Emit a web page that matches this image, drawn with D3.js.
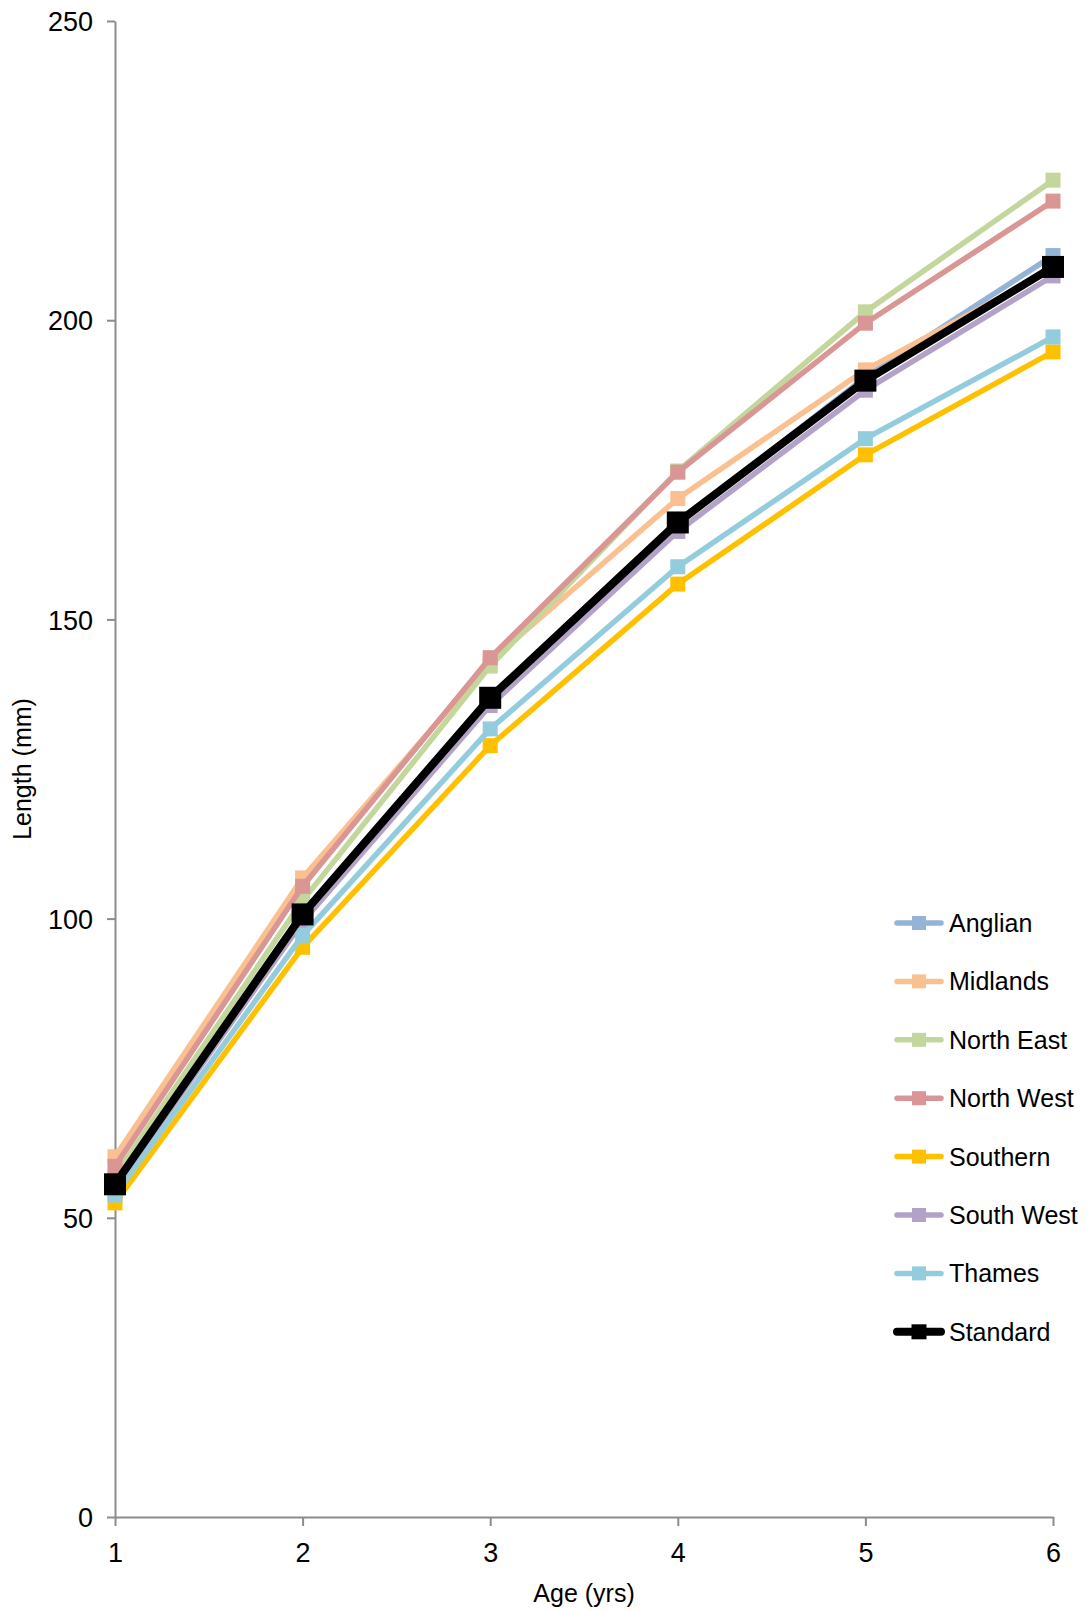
<!DOCTYPE html>
<html>
<head>
  <title>Length at age</title>
  <script src="https://d3js.org/d3.v7.min.js"></script>
  <style>
    body { margin: 0; background: #fff; }
    text { font-family: "Liberation Sans", Arial, sans-serif; fill: #000; }
  </style>
</head>
<body>
  <svg id="chart"></svg>
  <script>
    // ages on the x axis
    const ages = [1, 2, 3, 4, 5, 6];

    // regions, in drawing order (Standard last, on top)
    const regions = ["Anglian", "Midlands", "North East", "North West", "Southern", "South West", "Thames", "Standard"];
    const colours = ["#95B3D7", "#FAC090", "#C3D69B", "#D99694", "#FFC000", "#B3A2C7", "#93CDDD", "#000000"];

    // length (mm) at each age
    const anglian   = [56,   101,   137,   166,   190.5, 210.8];
    const midlands  = [60.2, 106.8, 143,   170.2, 191.7, 208.5];
    const northEast = [57,   103,   142.2, 174.8, 201.4, 223.4];
    const northWest = [58.6, 105.4, 143.6, 174.6, 199.5, 219.9];
    const southern  = [52.5, 95.2,  128.9, 155.9, 177.5, 194.7];
    const southWest = [55,   99.5,  135.6, 164.7, 188.3, 207.4];
    const thames    = [53.8, 97.2,  131.7, 158.8, 180.2, 197.2];
    const standard  = [55.6, 100.7, 136.9, 166.2, 189.9, 208.9];

    const yTicks = [0, 50, 100, 150, 200, 250];

    const values = [anglian, midlands, northEast, northWest, southern, southWest, thames, standard];

    const W = 1089, H = 1611;
    const margin = { top: 21, right: 36, bottom: 94, left: 115 };
    const width = W - margin.left - margin.right;
    const height = H - margin.top - margin.bottom;

    const svg = d3.select("#chart")
      .attr("width", W)
      .attr("height", H);

    const g = svg.append("g")
      .attr("transform", `translate(${margin.left},${margin.top})`);

    const x = d3.scaleLinear().domain([1, 6]).range([0, width]);
    const y = d3.scaleLinear().domain([0, 250]).range([height, 0]);

    // y axis
    const yAxis = g.append("g")
      .call(d3.axisLeft(y).tickValues(yTicks).tickSize(8).tickPadding(14).tickSizeOuter(0));
    yAxis.selectAll("text").attr("font-size", 27).attr("dy", "0.36em");

    // x axis
    const xAxis = g.append("g")
      .attr("transform", `translate(0,${height})`)
      .call(d3.axisBottom(x).tickValues(ages).tickFormat(d3.format("d")).tickSize(9).tickPadding(17).tickSizeOuter(0));
    xAxis.selectAll("text").attr("font-size", 27);

    g.selectAll(".domain, .tick line").attr("stroke", "#8c8c8c").attr("stroke-width", 2);

    // axis titles
    svg.append("text")
      .attr("x", margin.left + width / 2)
      .attr("y", 1602)
      .attr("text-anchor", "middle")
      .attr("font-size", 25)
      .text("Age (yrs)");

    svg.append("text")
      .attr("transform", `translate(31,${margin.top + height / 2}) rotate(-90)`)
      .attr("text-anchor", "middle")
      .attr("font-size", 25)
      .text("Length (mm)");

    const line = d3.line()
      .x((d, i) => x(ages[i]))
      .y(d => y(d));

    regions.forEach((name, k) => {
      const isStd = name === "Standard";
      const lw = isStd ? 8 : 5.5;
      const ms = isStd ? 22 : 15;
      const s = g.append("g");
      s.append("path")
        .datum(values[k])
        .attr("fill", "none")
        .attr("stroke", colours[k])
        .attr("stroke-width", lw)
        .attr("stroke-linejoin", "round")
        .attr("d", line);
      s.selectAll("rect")
        .data(values[k])
        .enter()
        .append("rect")
        .attr("x", (d, i) => x(ages[i]) - ms / 2)
        .attr("y", d => y(d) - ms / 2)
        .attr("width", ms)
        .attr("height", ms)
        .attr("fill", colours[k]);
    });

    // legend
    const legend = svg.append("g").attr("transform", "translate(897,923)");
    regions.forEach((name, k) => {
      const isStd = name === "Standard";
      const row = legend.append("g").attr("transform", `translate(0,${k * 58.4})`);
      row.append("line")
        .attr("x1", 0).attr("x2", 44)
        .attr("stroke", colours[k])
        .attr("stroke-width", isStd ? 8 : 5.5)
        .attr("stroke-linecap", "round");
      const ms = isStd ? 15 : 14;
      row.append("rect")
        .attr("x", 22 - ms / 2).attr("y", -ms / 2)
        .attr("width", ms).attr("height", ms)
        .attr("fill", colours[k]);
      row.append("text")
        .attr("x", 52)
        .attr("dy", "0.36em")
        .attr("font-size", 25)
        .text(name);
    });
  </script>
</body>
</html>
